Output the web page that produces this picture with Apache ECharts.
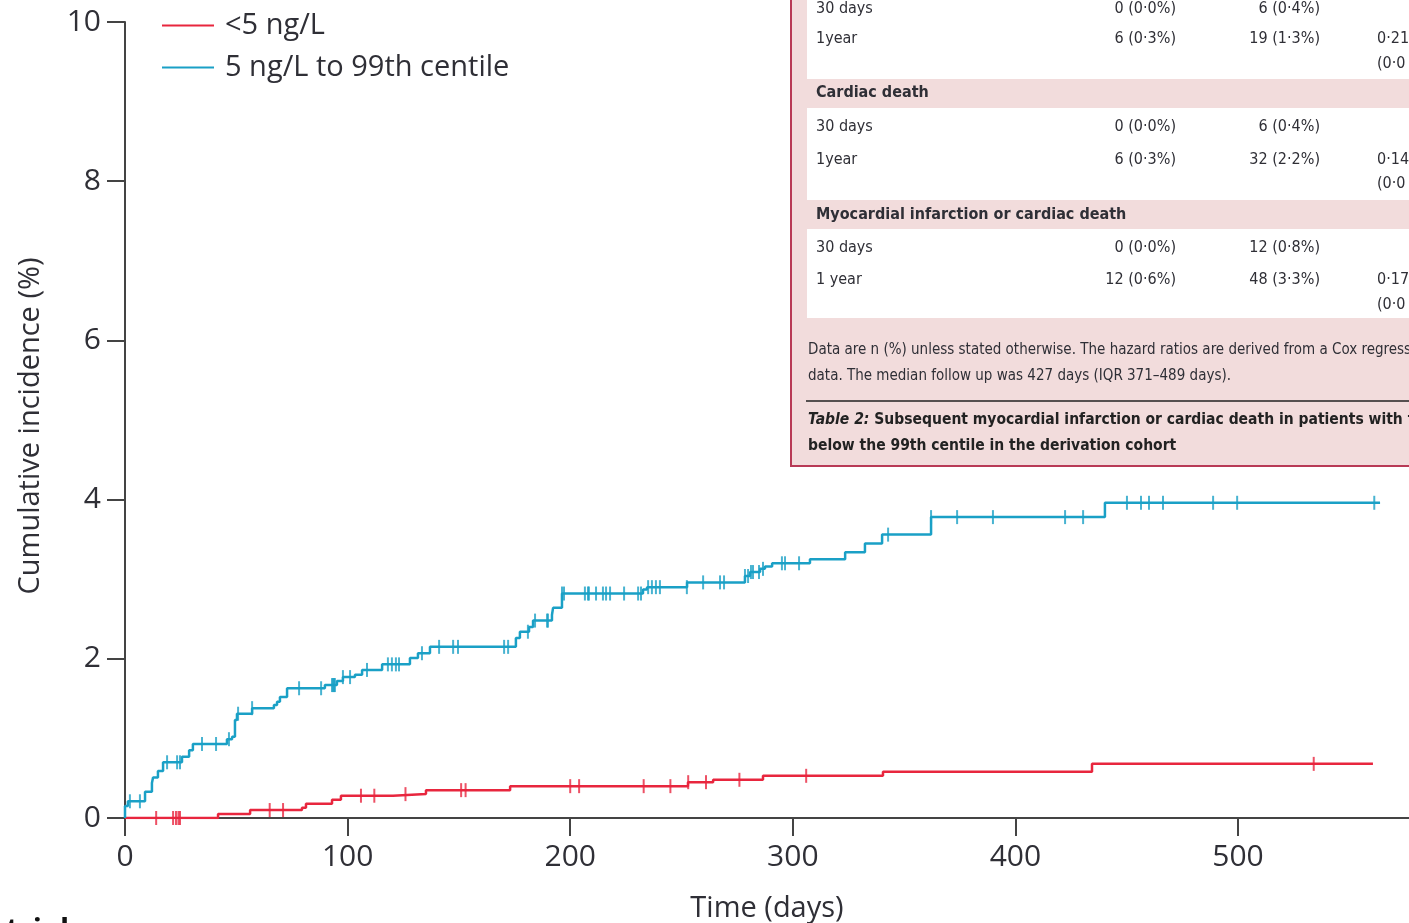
<!DOCTYPE html>
<html>
<head>
<meta charset="utf-8">
<script src="https://cdn.jsdelivr.net/npm/echarts@6/dist/echarts.min.js"></script>
<style>
  html, body { margin: 0; padding: 0; background: #fff; }
  #chart { width: 1409px; height: 923px; }
</style>
</head>
<body>
<div id="chart"></div>
<script>
// Kaplan-Meier cumulative incidence by troponin group
const seriesNames = ['<5 ng/L', '5 ng/L to 99th centile'];

// <5 ng/L: event times (days) and cumulative incidence (%) after each step
const lowDays = [0, 41.8, 56.2, 79.5, 81.3, 93.0, 97.0, 120.4, 135.2, 173.0, 252.9, 264.2, 286.6, 340.5, 434.4];
const lowIncidence = [0, 0.05, 0.10, 0.13, 0.18, 0.23, 0.28, 0.30, 0.35, 0.40, 0.45, 0.48, 0.53, 0.58, 0.68];
const lowEndDay = 560.6;
const lowCensorDays = [14, 21.6, 22.9, 24.0, 24.7, 65, 71, 106, 112, 126, 151, 153, 200, 204, 233, 245, 253, 261, 276, 306, 534];

// 5 ng/L to 99th centile
const highDays = [0, 0, 1.3, 9.0, 12.1, 12.6, 14.8, 17.1, 25.6, 28.8, 30.5, 45.8, 48.1, 49.4, 50.3, 57.1, 66.9, 68.3, 69.6, 72.8,
  89.8, 95.2, 97.9, 103.3, 106.5, 115.5, 128.0, 131.6, 137.0, 175.6, 177.4, 181.5, 183.3, 191.8, 192.3, 196.3,
  232.7, 234.5, 252.5, 278.5, 280.8, 285.3, 287.5, 290.7, 307.7, 323.5, 332.4, 340.1, 362.1, 440.2];
const highIncidence = [0, 0.15, 0.21, 0.33, 0.44, 0.51, 0.59, 0.70, 0.77, 0.85, 0.93, 0.99, 1.02, 1.23, 1.31, 1.38, 1.42, 1.46, 1.52, 1.63,
  1.67, 1.72, 1.77, 1.80, 1.86, 1.93, 2.01, 2.07, 2.15, 2.26, 2.34, 2.40, 2.48, 2.55, 2.64, 2.82,
  2.87, 2.90, 2.96, 3.04, 3.09, 3.13, 3.16, 3.20, 3.25, 3.34, 3.45, 3.56, 3.78, 3.96];
const highEndDay = 563.8;
const highCensorDays = [2.2, 6.7, 18.9, 23.4, 24.7, 34.6, 40.9, 46.7, 50.8, 57.1, 78.2, 88.1, 93.0, 93.5, 93.9, 94.3, 97.9, 101.1,
  108.7, 118.1, 119.9, 121.7, 123.1, 133.4, 141.1, 147.4, 149.6, 170.3, 172.1, 181.0, 184.2, 189.6, 190.0, 196.3, 197.2,
  206.6, 208.0, 208.4, 211.6, 214.7, 216.1, 217.9, 224.2, 230.5, 231.8, 235.0, 236.7, 238.5, 240.3, 252.4, 259.7,
  267.3, 269.1, 278.5, 279.9, 281.2, 282.1, 284.8, 286.6, 295.1, 296.5, 302.8, 342.8, 362.1, 373.8, 389.9, 422.3,
  430.4, 450.1, 456.4, 460.0, 466.3, 488.8, 499.6, 561.2];

const xTicks = [0, 100, 200, 300, 400, 500];

// Inset table text
const sectionTitles = ['Cardiac death', 'Myocardial infarction or cardiac death'];
const tableRowsMI = [['30 days', '0 (0·0%)', '6 (0·4%)', ''], ['1year', '6 (0·3%)', '19 (1·3%)', '0·21'], ['', '', '', '(0·0']];
const tableRowsCD = [['30 days', '0 (0·0%)', '6 (0·4%)', ''], ['1year', '6 (0·3%)', '32 (2·2%)', '0·14'], ['', '', '', '(0·0']];
const tableRowsMICD = [['30 days', '0 (0·0%)', '12 (0·8%)', ''], ['1 year', '12 (0·6%)', '48 (3·3%)', '0·17'], ['', '', '', '(0·0']];
const footnoteLines = [
  'Data are n (%) unless stated otherwise. The hazard ratios are derived from a Cox regression of the time-to-event',
  'data. The median follow up was 427 days (IQR 371–489 days).'
];
const captionLabel = 'Table 2:';
const captionLines = [' Subsequent myocardial infarction or cardiac death in patients with troponin', 'below the 99th centile in the derivation cohort'];

const RED = '#e8263e';
const BLUE = '#1aa0c6';
const AXIS = '#444';
const TEXT = '#2f2f36';
const FONT = "'Open Sans', 'Noto Sans', sans-serif";
const NARROW = "'Liberation Sans Narrow', 'DejaVu Sans Condensed', 'Open Sans', sans-serif";

function stepData(days, vals, endDay) {
  const d = days.map((t, i) => [t, vals[i]]);
  d.push([endDay, vals[vals.length - 1]]);
  return d;
}
function levelAt(days, vals, t) {
  let v = vals[0];
  for (let i = 0; i < days.length; i++) { if (days[i] <= t) v = vals[i]; }
  return v;
}
function censorData(cdays, days, vals) {
  return cdays.map(t => [t, levelAt(days, vals, t)]);
}

// Inset table built from graphic elements
const TL = 791, COL1 = 816, COL2R = 1176, COL3R = 1320, COL4 = 1377;
const graphics = [];
graphics.push({ type: 'rect', shape: { x: TL, y: -10, width: 700, height: 476 },
  style: { fill: '#f2dcdc', stroke: '#b83a56', lineWidth: 2 }, z: 10 });
const panels = [{ y0: -10, y1: 79, rows: tableRowsMI, ys: [9, 39, 64] },
                { y0: 108, y1: 200, rows: tableRowsCD, ys: [127, 160, 184] },
                { y0: 229, y1: 318, rows: tableRowsMICD, ys: [248, 280, 305] }];
function tText(txt, x, y, align) {
  return { type: 'text', x: x, y: y, z: 12,
    style: { text: txt, fill: TEXT, fontSize: 16, fontFamily: NARROW, align: align, verticalAlign: 'middle' } };
}
panels.forEach(p => {
  graphics.push({ type: 'rect', shape: { x: 807, y: p.y0, width: 700, height: p.y1 - p.y0 },
    style: { fill: '#ffffff' }, z: 11 });
  p.rows.forEach((r, i) => {
    const y = p.ys[i];
    if (r[0]) graphics.push(tText(r[0], COL1, y, 'left'));
    if (r[1]) graphics.push(tText(r[1], COL2R, y, 'right'));
    if (r[2]) graphics.push(tText(r[2], COL3R, y, 'right'));
    if (r[3]) graphics.push(tText(r[3], COL4, y, 'left'));
  });
});
[[sectionTitles[0], 93], [sectionTitles[1], 215]].forEach(([t, y]) => {
  const el = tText(t, COL1, y, 'left');
  el.style.fontWeight = 'bold';
  graphics.push(el);
});
footnoteLines.forEach((t, i) => {
  const el = tText(t, 808, 350 + i * 26, 'left');
  el.style.fontSize = 15;
  graphics.push(el);
});
graphics.push({ type: 'line', shape: { x1: 806, y1: 401, x2: 1420, y2: 401 },
  style: { stroke: '#222', lineWidth: 1.5 }, z: 12 });
graphics.push({ type: 'text', x: 808, y: 420, z: 12,
  style: { text: '{i|' + captionLabel + '}{b|' + captionLines[0] + '}', verticalAlign: 'middle', align: 'left',
    rich: { i: { fontStyle: 'italic', fontWeight: 'bold', fontSize: 15.5, fontFamily: NARROW, fill: '#222' },
            b: { fontWeight: 'bold', fontSize: 15.5, fontFamily: NARROW, fill: '#222' } } } });
graphics.push({ type: 'text', x: 808, y: 446, z: 12,
  style: { text: captionLines[1], verticalAlign: 'middle', align: 'left', fontWeight: 'bold',
    fontSize: 15.5, fontFamily: NARROW, fill: '#222' } });
// running text below the figure
graphics.push({ type: 'text', x: 6, y: 916, z: 12,
  style: { text: 'trial', fontSize: 30, fontWeight: 'bold', fontFamily: FONT, fill: '#111', verticalAlign: 'top', align: 'left' } });

const chart = echarts.init(document.getElementById('chart'));
chart.setOption({
  animation: false,
  backgroundColor: '#fff',
  grid: { left: 125, right: 0, top: 22, bottom: 105, containLabel: false, outerBoundsMode: 'none' },
  legend: {
    data: seriesNames, left: 157, top: 6, orient: 'vertical', icon: 'rect',
    itemWidth: 52, itemHeight: 2, itemGap: 13,
    textStyle: { fontSize: 29, fontFamily: FONT, color: TEXT, padding: [0, 0, 0, 6] }
  },
  xAxis: {
    type: 'value', min: 0, max: 576.8, interval: 100,
    name: 'Time (days)', nameLocation: 'middle', nameGap: 76,
    nameTextStyle: { fontSize: 29, fontFamily: FONT, color: TEXT },
    axisLine: { lineStyle: { color: AXIS, width: 2 } },
    axisTick: { length: 18, lineStyle: { color: AXIS, width: 2 }, customValues: xTicks },
    axisLabel: { fontSize: 30, fontFamily: FONT, color: TEXT, margin: 24, customValues: xTicks },
    splitLine: { show: false }
  },
  yAxis: {
    type: 'value', min: 0, max: 10, interval: 2,
    name: 'Cumulative incidence (%)', nameLocation: 'middle', nameGap: 80,
    nameTextStyle: { fontSize: 29, fontFamily: FONT, color: TEXT, padding: [0, 12, 0, 0] },
    axisLine: { show: true, lineStyle: { color: AXIS, width: 2 } },
    axisTick: { show: true, length: 18, lineStyle: { color: AXIS, width: 2 } },
    axisLabel: { fontSize: 30, fontFamily: FONT, color: TEXT, margin: 24 },
    splitLine: { show: false }
  },
  series: [
    { name: seriesNames[0], type: 'line', step: 'end', showSymbol: false, color: RED,
      lineStyle: { width: 2.5, color: RED }, data: stepData(lowDays, lowIncidence, lowEndDay), z: 3 },
    { name: seriesNames[1], type: 'line', step: 'end', showSymbol: false, color: BLUE,
      lineStyle: { width: 2.5, color: BLUE }, data: stepData(highDays, highIncidence, highEndDay), z: 3 },
    { name: 'censored-low', type: 'scatter', symbol: 'rect', symbolSize: [2, 14], itemStyle: { color: RED },
      data: censorData(lowCensorDays, lowDays, lowIncidence), z: 4 },
    { name: 'censored-high', type: 'scatter', symbol: 'rect', symbolSize: [2, 14], itemStyle: { color: BLUE },
      data: censorData(highCensorDays, highDays, highIncidence), z: 4 }
  ],
  graphic: graphics
});
</script>
</body>
</html>
